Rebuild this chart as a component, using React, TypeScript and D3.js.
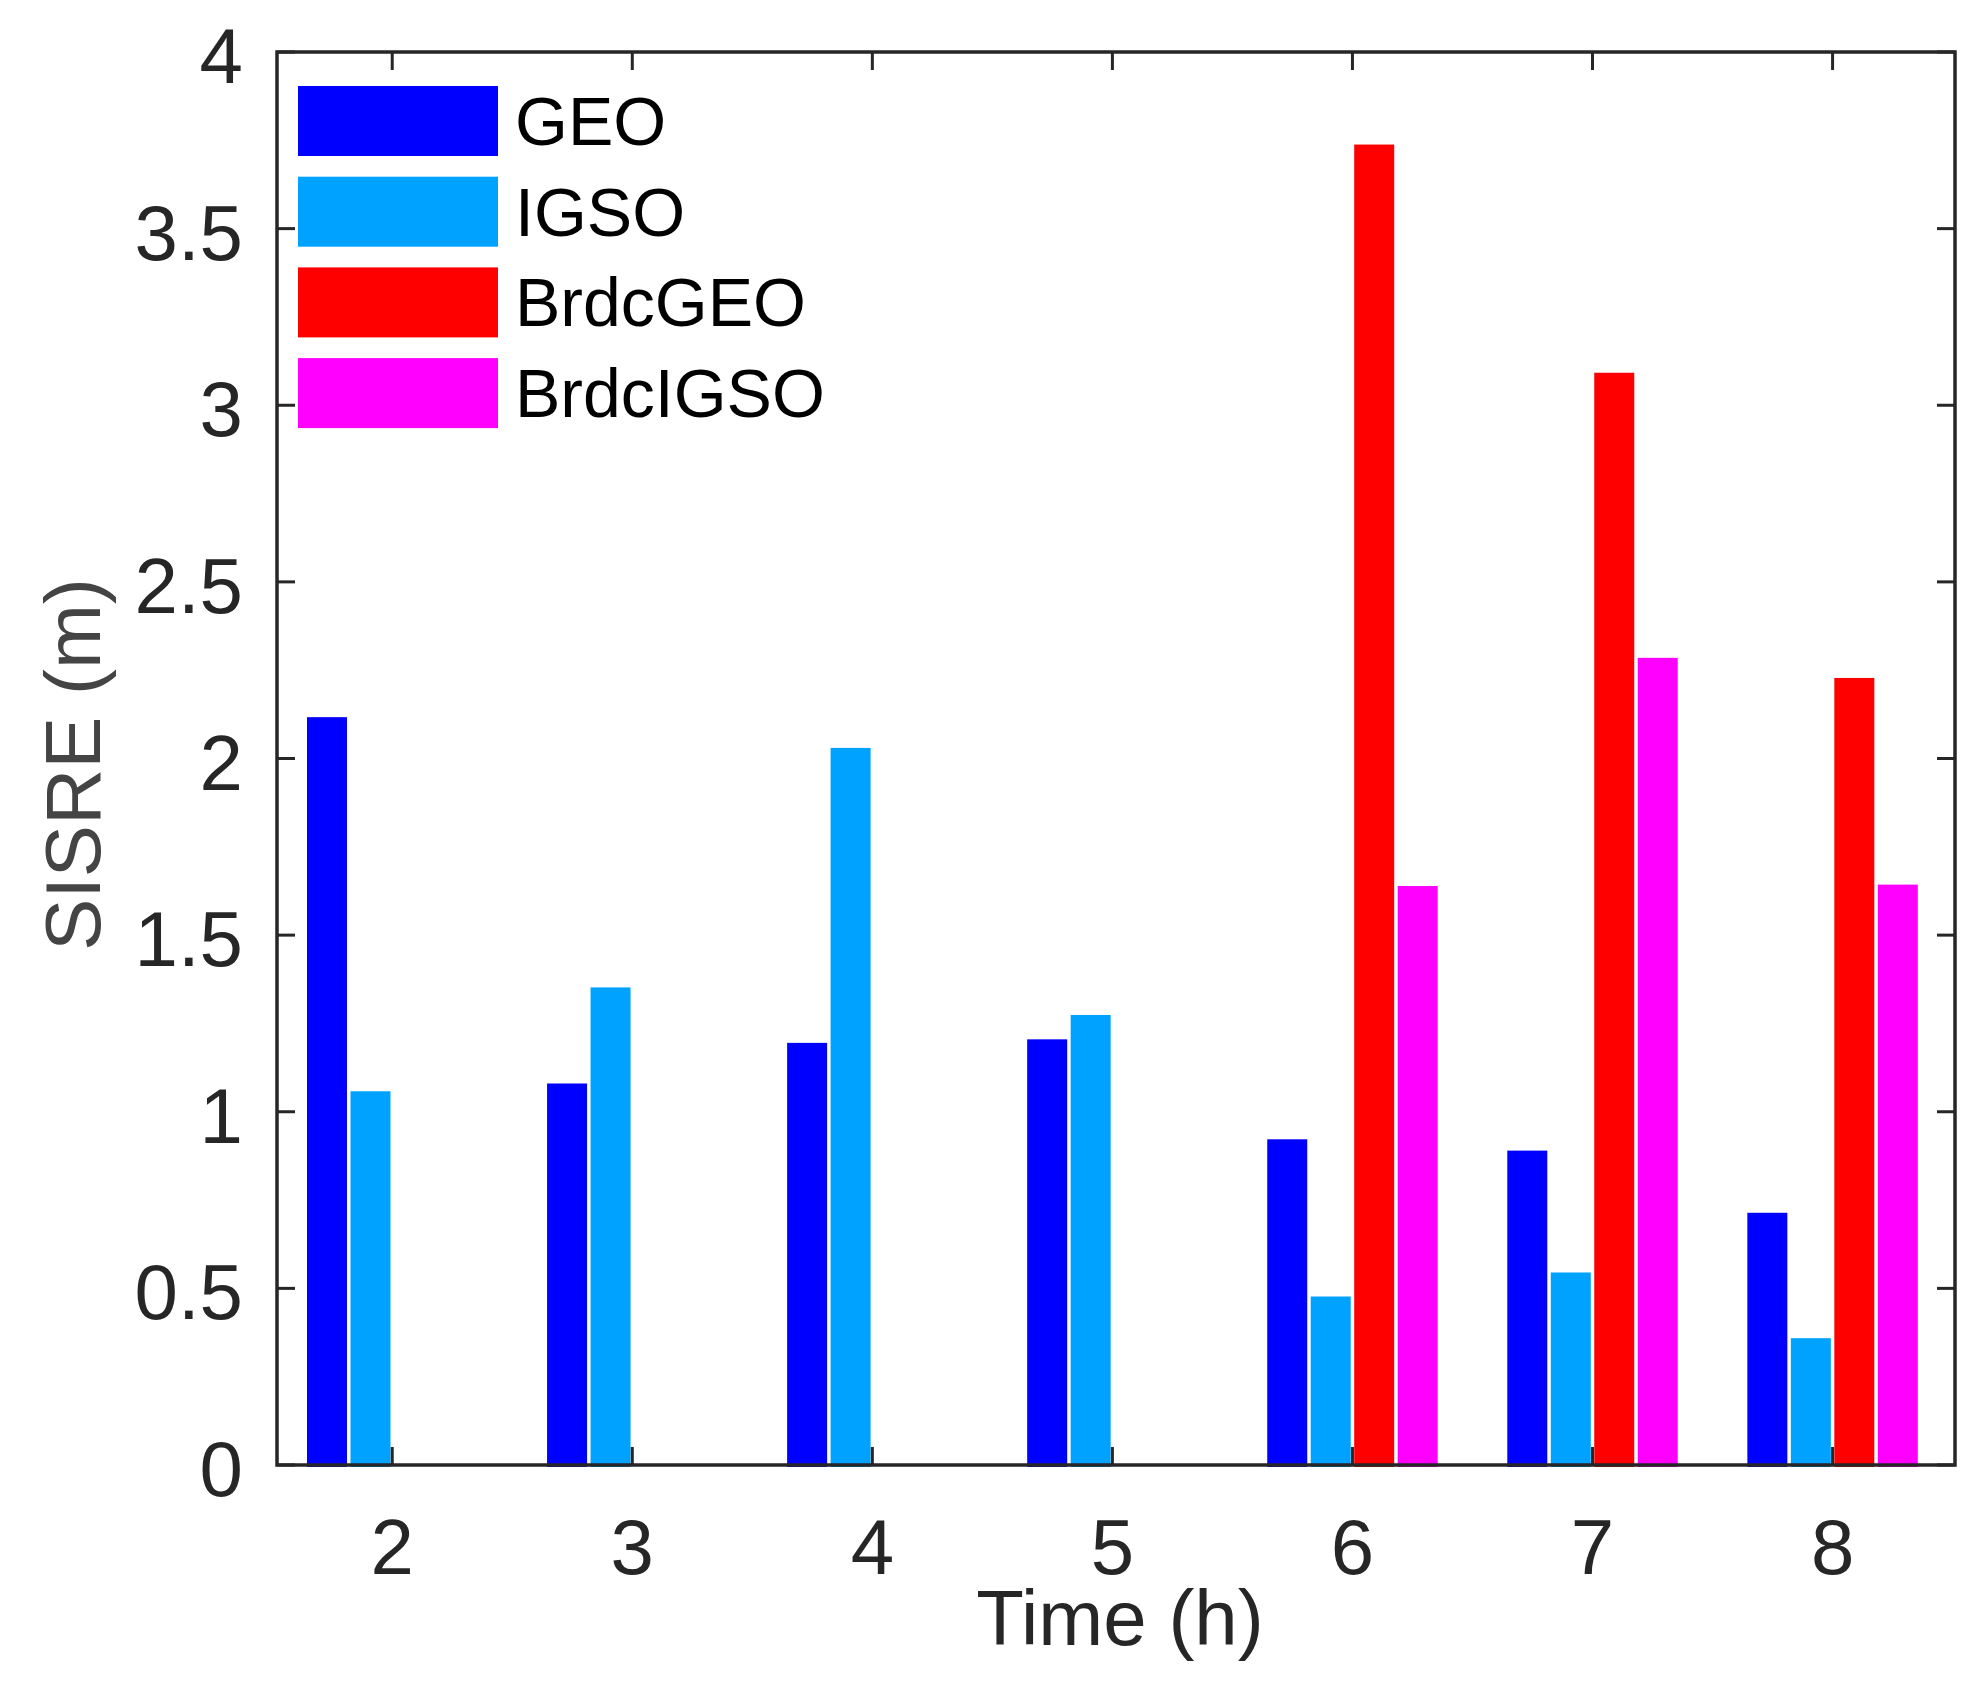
import React from "react";
import * as d3 from "d3";

// hours on the x axis
const hours = [2, 3, 4, 5, 6, 7, 8];
const seriesNames = ["GEO", "IGSO", "BrdcGEO", "BrdcIGSO"];
const seriesColors = ["#0000ff", "#00a2ff", "#ff0000", "#ff00ff"];

// SISRE (m) per hour
const geo = [2.117, 1.08, 1.195, 1.205, 0.922, 0.89, 0.714];
const igso = [1.058, 1.352, 2.03, 1.274, 0.477, 0.545, 0.359];
const brdcGeo = [0, 0, 0, 0, 3.738, 3.092, 2.228];
const brdcIgso = [0, 0, 0, 0, 1.639, 2.285, 1.643];

const yTicks = [0, 0.5, 1, 1.5, 2, 2.5, 3, 3.5, 4];

const W = 1987;
const H = 1686;
const margin = { left: 277, right: W - 1955, top: 52, bottom: H - 1465 };
const axisColor = "#262626";
const font = "'Liberation Sans', Arial, Helvetica, sans-serif";

const App = () => {
    const seriesValues = [geo, igso, brdcGeo, brdcIgso];
    const x = d3.scaleLinear().domain([1.52, 8.51]).range([margin.left, W - margin.right]);
    const y = d3.scaleLinear().domain([0, 4]).range([H - margin.bottom, margin.top]);
    // position of each series inside a group, in data units
    const inner = d3.scaleBand<string>().domain(seriesNames).range([-0.355, 0.355]).paddingInner(0.08);
    const barW = x(inner.bandwidth()) - x(0);
    const tickLen = 18;
    const x0 = margin.left;
    const x1 = W - margin.right;
    const y0 = H - margin.bottom;
    const y1 = margin.top;

    return (
        <svg width={W} height={H} style={{ position: "absolute", left: 0, top: 0, background: "#fff" }}>
            <rect x={0} y={0} width={W} height={H} fill="#fff" />
            {/* bars */}
            {seriesValues.map((vals, si) =>
                vals.map((v, i) => {
                    if (v <= 0) return null;
                    const bx = x(hours[i] + (inner(seriesNames[si]) as number));
                    return (
                        <rect
                            key={`${si}-${i}`}
                            x={bx}
                            y={y(v)}
                            width={barW}
                            height={y(0) - y(v) + 2}
                            fill={seriesColors[si]}
                        />
                    );
                })
            )}
            {/* ticks */}
            {hours.map((h) => (
                <g key={`xt${h}`} stroke={axisColor} strokeWidth={3}>
                    <line x1={x(h)} x2={x(h)} y1={y0} y2={y0 - tickLen} />
                    <line x1={x(h)} x2={x(h)} y1={y1} y2={y1 + tickLen} />
                </g>
            ))}
            {yTicks.map((t) => (
                <g key={`yt${t}`} stroke={axisColor} strokeWidth={3}>
                    <line x1={x0} x2={x0 + tickLen} y1={y(t)} y2={y(t)} />
                    <line x1={x1} x2={x1 - tickLen} y1={y(t)} y2={y(t)} />
                </g>
            ))}
            {/* axes box */}
            <rect x={x0} y={y1} width={x1 - x0} height={y0 - y1} fill="none" stroke={axisColor} strokeWidth={3.5} />
            {/* tick labels */}
            {hours.map((h) => (
                <text key={`xl${h}`} x={x(h)} y={1574} textAnchor="middle" fontFamily={font} fontSize={78} fill={axisColor}>
                    {h}
                </text>
            ))}
            {yTicks.map((t) => (
                <text key={`yl${t}`} x={243} y={y(t) + 31} textAnchor="end" fontFamily={font} fontSize={78} fill={axisColor}>
                    {t}
                </text>
            ))}
            {/* axis labels */}
            <text x={(x0 + x1) / 2 + 4} y={1645} textAnchor="middle" fontFamily={font} fontSize={78} fill={axisColor}>
                Time (h)
            </text>
            <text
                transform={`translate(100, ${(y0 + y1) / 2 + 6}) rotate(-90)`}
                textAnchor="middle"
                fontFamily={font}
                fontSize={78}
                fill="#444"
            >
                SISRE (m)
            </text>
            {/* legend */}
            {seriesNames.map((name, i) => (
                <g key={`lg${name}`} transform={`translate(298, ${86 + i * 90.7})`}>
                    <rect x={0} y={0} width={200} height={70} fill={seriesColors[i]} />
                    <text x={217} y={59} fontFamily={font} fontSize={68} fill="#000">
                        {name}
                    </text>
                </g>
            ))}
        </svg>
    );
};

export default App;
